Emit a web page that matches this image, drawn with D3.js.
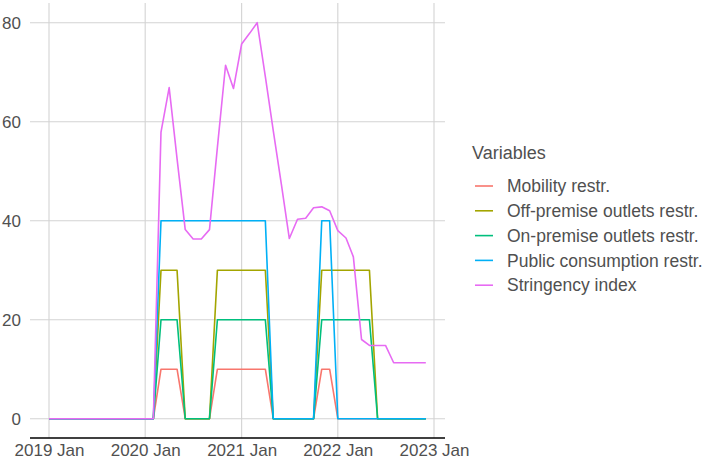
<!DOCTYPE html>
<html>
<head>
<meta charset="utf-8">
<script src="https://cdn.jsdelivr.net/npm/d3@7"></script>
<style>
  body { margin: 0; background: #fff; }
  svg text { font-family: "Liberation Sans", Arial, Helvetica, sans-serif; }
</style>
</head>
<body>
<svg id="svg" width="709" height="464"></svg>
<script>
// monthly observations, 2019 Jan .. 2022 Dec
const months = d3.timeMonth.range(new Date(2019, 0, 1), new Date(2023, 0, 1));

const mobility = [
  0,0,0,0,0,0,0,0,0,0,0,0,
  0,0,10,10,10,0,0,0,0,10,10,10,
  10,10,10,10,0,0,0,0,0,0,10,10,
  0,0,0,0,0,0,0,0,0,0,0,0
];
const offPremise = [
  0,0,0,0,0,0,0,0,0,0,0,0,
  0,0,30,30,30,0,0,0,0,30,30,30,
  30,30,30,30,0,0,0,0,0,0,30,30,
  30,30,30,30,30,0,0,0,0,0,0,0
];
const onPremise = [
  0,0,0,0,0,0,0,0,0,0,0,0,
  0,0,20,20,20,0,0,0,0,20,20,20,
  20,20,20,20,0,0,0,0,0,0,20,20,
  20,20,20,20,20,0,0,0,0,0,0,0
];
const publicCons = [
  0,0,0,0,0,0,0,0,0,0,0,0,
  0,0,40,40,40,40,40,40,40,40,40,40,
  40,40,40,40,0,0,0,0,0,0,40,40,
  0,0,0,0,0,0,0,0,0,0,0,0
];
const stringency = [
  0,0,0,0,0,0,0,0,0,0,0,0,
  0,0,57.9,66.9,52.5,38.2,36.3,36.3,38.2,54.8,71.4,66.7,
  75.7,77.9,80,69.1,58.2,47.3,36.4,40.3,40.5,42.6,42.8,42,
  38,36.5,32.7,16,14.8,14.8,14.8,11.3,11.3,11.3,11.3,11.3
];

const seriesNames = [
  "Mobility restr.",
  "Off-premise outlets restr.",
  "On-premise outlets restr.",
  "Public consumption restr.",
  "Stringency index"
];
const seriesValues = [mobility, offPremise, onPremise, publicCons, stringency];
const colors = ["#F8766D", "#A3A500", "#00BF7D", "#00B0F6", "#E76BF3"];

const yTicks = [0, 20, 40, 60, 80];
const xTicks = [2019, 2020, 2021, 2022, 2023].map(y => new Date(y, 0, 1));

const svg = d3.select("#svg");
const panel = { left: 30, right: 445, top: 3, bottom: 438 };
const textColor = "#505050";

const x = d3.scaleTime()
  .domain([new Date(2019, 0, 1), new Date(2023, 0, 1)])
  .range([49, 434]);
const y = d3.scaleLinear().domain([0, 80]).range([418.7, 22.7]);

const grid = svg.append("g").attr("stroke", "#d3d3d3").attr("stroke-width", 1.1);
grid.selectAll("line.h").data(yTicks).join("line")
  .attr("x1", panel.left).attr("x2", panel.right)
  .attr("y1", d => y(d)).attr("y2", d => y(d));
grid.selectAll("line.v").data(xTicks).join("line")
  .attr("y1", panel.top).attr("y2", panel.bottom)
  .attr("x1", d => x(d)).attr("x2", d => x(d));

// axis labels (ggplot style, no ticks)
const yAxis = svg.append("g")
  .attr("transform", `translate(${panel.left - 9},0)`)
  .call(d3.axisLeft(y).tickValues(yTicks).tickSize(0).tickPadding(0));
yAxis.select(".domain").remove();
yAxis.selectAll("text").attr("font-size", 17).attr("fill", textColor)
  .attr("font-family", null);

const xAxis = svg.append("g")
  .attr("transform", `translate(0,${panel.bottom})`)
  .call(d3.axisBottom(x).tickValues(xTicks).tickSize(0).tickPadding(6)
    .tickFormat(d3.timeFormat("%Y %b")));
xAxis.select(".domain").remove();
xAxis.selectAll("text").attr("font-size", 17).attr("fill", textColor)
  .attr("font-family", null);

svg.append("line")
  .attr("x1", panel.left).attr("x2", panel.right)
  .attr("y1", panel.bottom).attr("y2", panel.bottom)
  .attr("stroke", "#000").attr("stroke-width", 1.6);

const line = d3.line()
  .x((d, i) => x(months[i]))
  .y(d => y(d));

svg.append("g").selectAll("path").data(seriesValues).join("path")
  .attr("d", d => line(d))
  .attr("fill", "none")
  .attr("stroke", (d, i) => colors[i])
  .attr("stroke-width", 1.6)
  .attr("stroke-linejoin", "round");

// legend
const legend = svg.append("g").attr("transform", "translate(472,0)");
legend.append("text")
  .attr("x", 0).attr("y", 159)
  .attr("font-size", 18).attr("fill", textColor)
  .text("Variables");

const item = legend.selectAll("g.item").data(seriesNames).join("g")
  .attr("transform", (d, i) => `translate(0,${186 + i * 24.8})`);
item.append("line")
  .attr("x1", 3).attr("x2", 21)
  .attr("stroke", (d, i) => colors[i]).attr("stroke-width", 1.6);
item.append("text")
  .attr("x", 35).attr("dy", "0.35em")
  .attr("font-size", 17.5).attr("fill", textColor)
  .text(d => d);
</script>
</body>
</html>
